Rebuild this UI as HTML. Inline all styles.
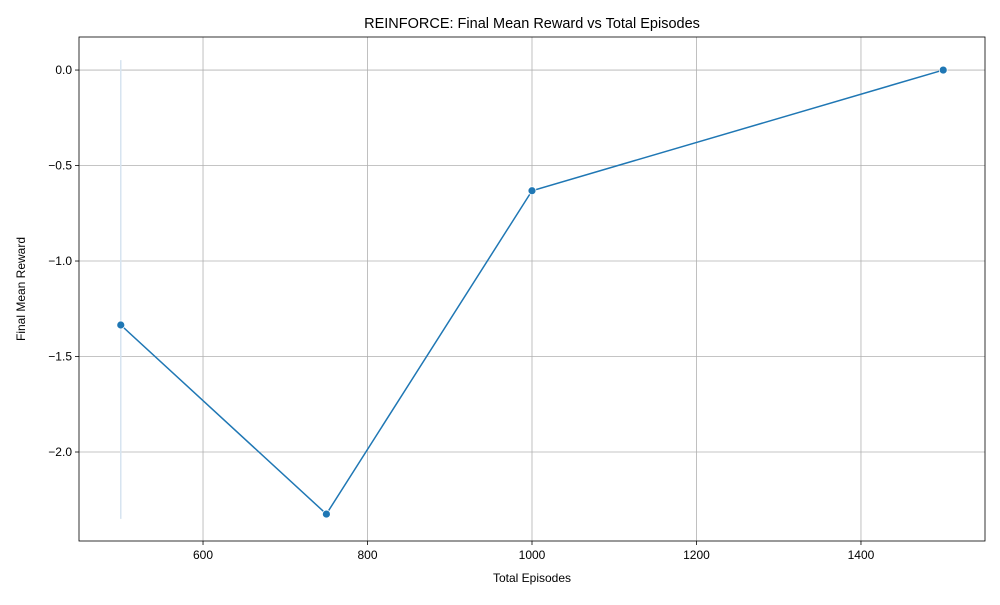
<!DOCTYPE html>
<html><head><meta charset="utf-8"><style>
body{margin:0;background:#fff;}
svg{font-family:"Liberation Sans","DejaVu Sans",sans-serif;}
</style></head><body>
<svg id="chart" width="1000" height="600"></svg>
<script>
const episodes=[500,750,1000,1500];
const rewards=[-1.335,-2.325,-0.632,0.0];
const errLow=[-2.35,null,null,null];
const errHigh=[0.052,null,null,null];
const xTicks=[600,800,1000,1200,1400];
const yTicks=[0.0,-0.5,-1.0,-1.5,-2.0];
const yTickLabels=["0.0","\u22120.5","\u22121.0","\u22121.5","\u22122.0"];

const L=79,R=985,T=37,B=541;
const xMin=449.2,xMax=1550.8,yMin=-2.466,yMax=0.173;
const sx=v=>L+(v-xMin)/(xMax-xMin)*(R-L);
const sy=v=>B-(v-yMin)/(yMax-yMin)*(B-T);
const svg=document.getElementById('chart');
const NS='http://www.w3.org/2000/svg';
function mk(tag,attrs,parent){const e=document.createElementNS(NS,tag);for(const k in attrs)e.setAttribute(k,attrs[k]);(parent||svg).appendChild(e);return e;}

xTicks.forEach((t,i)=>{
  const x=sx(t);
  const g=mk('line',{x1:x,x2:x,y1:T,y2:B,stroke:'#b0b0b0','stroke-width':0.8});
  
  
  mk('line',{x1:x,x2:x,y1:B,y2:B+4,stroke:'#000','stroke-width':0.8});
  const tx=mk('text',{x:x,y:B+18,'font-size':12,'text-anchor':'middle',fill:'#000'});
  tx.textContent=t;
  
  
});
yTicks.forEach((t,i)=>{
  const y=sy(t);
  const g=mk('line',{x1:L,x2:R,y1:y,y2:y,stroke:'#b0b0b0','stroke-width':0.8});
  
  
  mk('line',{x1:L-4,x2:L,y1:y,y2:y,stroke:'#000','stroke-width':0.8});
  const tx=mk('text',{x:L-7,y:y+4,'font-size':12,'text-anchor':'end',fill:'#000'});
  tx.textContent=yTickLabels[i];
  
  
});
episodes.forEach((e,i)=>{
  if(errLow[i]===null)return;
  const l=mk('line',{x1:sx(e),x2:sx(e),y1:sy(errHigh[i]),y2:sy(errLow[i]),stroke:'#d6e4f0','stroke-width':1.5});
  
  
});
const pl=mk('polyline',{points:episodes.map((e,i)=>sx(e)+','+sy(rewards[i])).join(' '),fill:'none',stroke:'#1f77b4','stroke-width':1.5});


episodes.forEach((e,i)=>{
  const c=mk('circle',{cx:sx(e),cy:sy(rewards[i]),r:4,fill:'#1f77b4',stroke:'#fff','stroke-width':0.8});
  
  
});
const fr=mk('rect',{x:L,y:T,width:R-L,height:B-T,fill:'none',stroke:'#000','stroke-width':0.8});


const title=mk('text',{x:(L+R)/2,y:28,'font-size':14.5,'text-anchor':'middle',fill:'#000'});
title.textContent='REINFORCE: Final Mean Reward vs Total Episodes';


const xt=mk('text',{x:(L+R)/2,y:582,'font-size':12,'text-anchor':'middle',fill:'#000'});
xt.textContent='Total Episodes';


const yt=mk('text',{x:25,y:(T+B)/2,'font-size':12,'text-anchor':'middle',fill:'#000',transform:'rotate(-90 25 '+(T+B)/2+')'});
yt.textContent='Final Mean Reward';


</script>
</body></html>
